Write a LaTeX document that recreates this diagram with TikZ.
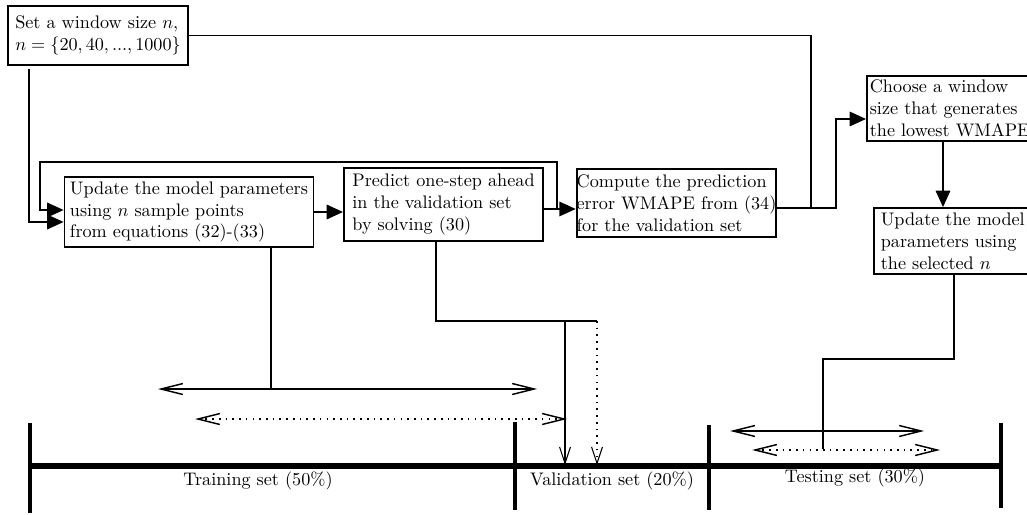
\documentclass[tikz,border=0pt]{standalone}
\usetikzlibrary{arrows.meta}
\begin{document}
\begin{tikzpicture}[x=0.55pt,y=-0.55pt,
  box/.style={draw,line width=1pt,align=left,inner ysep=0pt,inner xsep=3pt,anchor=center},
  conn/.style={line width=0.8pt},
  flow/.style={line width=0.8pt,-{Triangle[length=9pt,width=8pt]}},
  thin/.style={line width=0.6pt},
  barbend/.style={-{Straight Barb[length=9pt,width=6pt,line width=0.6pt]}},
  barbs/.style={line width=0.8pt,{Straight Barb[length=12pt,width=6pt]}-{Straight Barb[length=12pt,width=6pt]}},
  dotline/.style={dash pattern=on 0.9pt off 2.8pt},
  tickline/.style={line width=2.2pt},
  axis/.style={line width=3pt},
  lbl/.style={inner sep=0pt}]
\useasboundingbox (0,0) rectangle (1027,515);

% boxes
\node[box,minimum width=99pt,minimum height=32.5pt] (set) at (98,35.5)
  {Set a window size $n$,\\ $n=\{20,40,...,1000\}$};
\node[box,minimum width=136.4pt,minimum height=38.5pt] (upd) at (189,212)
  {Update the model parameters\\ using $n$ sample points\\ from equations (32)-(33)};
\node[box,minimum width=109.5pt,minimum height=40.2pt] (pred) at (443.5,204.5)
  {Predict one-step ahead\\ in the validation set\\ by solving (30)};
\node[box,minimum width=108.4pt,minimum height=37.4pt,inner xsep=0pt] (comp) at (676.5,203)
  {Compute the prediction\\ error WMAPE from (34)\\ for the validation set};
\node[box,anchor=west,text width=88pt,inner xsep=1.6pt,minimum height=35.75pt] (choose) at (866,108.5)
  {Choose a window\\ size that generates\\ the lowest WMAPE};
\node[box,anchor=west,text width=86pt,inner xsep=3.8pt,minimum height=36.3pt] (upd2) at (873,241)
  {Update the model\\ parameters using\\ the selected $n$};

% coordinates
\coordinate (pc) at (557,209);
\coordinate (l1) at (40,162);
\coordinate (l2) at (40,210);
\coordinate (b1) at (29,222);
\coordinate (j1) at (811,208);
\coordinate (j2) at (836,119);
\coordinate (cx) at (943,0);
\coordinate (t1) at (954,359);
\coordinate (t2) at (823,449);
\coordinate (v1) at (436,321);
\coordinate (v2) at (565,465);
\coordinate (v3) at (597,465);
\coordinate (tr) at (271,389);
\coordinate (ta) at (158,389);
\coordinate (tb) at (537,389);
\coordinate (tc) at (195,419);
\coordinate (td) at (567,419);
\coordinate (te) at (730,431);
\coordinate (tf) at (924,431);
\coordinate (tg) at (752,450);
\coordinate (th) at (940,450);

% flow connectors
\draw[conn] (set.east) -| (j1);
\draw[flow] (comp.east |- j1) -| (j2) -- (j2 -| choose.west);
\draw[flow] ([yshift=-1.6pt]set.south -| b1) -- (b1) -- (b1 -| upd.west);
\draw[flow] (pc) -- (pc |- l1) -- (l1) -- (l2) -- (l2 -| upd.west);
\draw[flow] (upd.east) -- (upd.east -| pred.west);
\draw[flow] (pred.east |- pc) -- (pc -| comp.west);
\draw[flow] (choose.south -| cx) -- (upd2.north -| cx);

% lines down to the data split
\draw[conn] (upd2.south -| t1) -- (t1) -| (t2);
\draw[conn] (upd.south -| tr) -- (tr);
\draw[conn] (pred.south -| v1) -- (v1) -- (v1 -| v3);
\draw[thin,barbend] (v1 -| v2) -- (v2);
\draw[thin,dotline,barbend] (v1 -| v3) -- (v3);

% ranges
\draw[barbs] (ta) -- (tb);
\draw[barbs,dotline] (tc) -- (td);
\draw[barbs] (te) -- (tf);
\draw[barbs,dotline] (tg) -- (th);

% time line
\draw[axis] (30,466) -- (1001,466);
\draw[tickline] (30,423) -- (30,513);
\draw[tickline] (515,422) -- (515,510);
\draw[tickline] (709,425) -- (709,510);
\draw[tickline] (1001,423) -- (1001,508);

\node[lbl] (ltrain) at (258,481) {Training set (50\%)};
\node[lbl] (lval) at (612,481) {Validation set (20\%)};
\node[lbl] (ltest) at (855,478) {Testing set (30\%)};
\end{tikzpicture}
\end{document}
